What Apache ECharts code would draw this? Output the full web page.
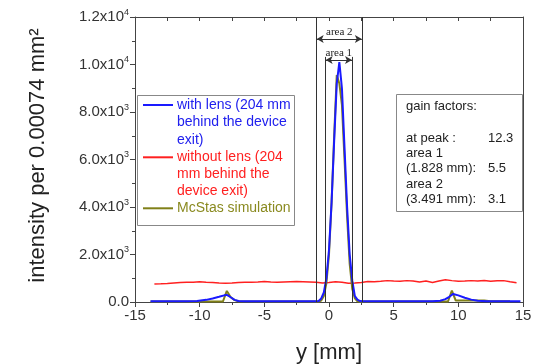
<!DOCTYPE html>
<html><head><meta charset="utf-8">
<script src="https://cdn.jsdelivr.net/npm/echarts@6/dist/echarts.min.js"></script>
<style>html,body{margin:0;padding:0;background:#fff}#c{width:545px;height:364px}</style>
</head><body><div id="c"></div>
<script>
// ---- data ----
const blueX = [-13.8,-12,-11,-10.2,-9.5,-9,-8.5,-8.1,-7.9,-7.6,-7.3,-7,-6.5,-4,-1.2,-1.0,-0.8,-0.6,-0.4,-0.2,0,0.2,0.4,0.6,0.8,1.0,1.2,1.4,1.6,1.8,2.0,2.2,2.4,2.6,5,8,8.6,9,9.3,9.6,10,10.5,11,11.5,12.2,14.8];
const blueY = [30,30,30,40,90,150,220,280,300,200,90,40,30,30,30,30,40,150,400,1000,2200,4200,6800,9200,10100,9000,6500,4000,2000,900,250,100,40,30,30,30,50,120,220,340,280,180,100,50,30,30];
const oliveX = [-13.8,-8.2,-7.9,-7.6,-7.3,-7,-1,-0.8,-0.6,-0.4,-0.2,0,0.2,0.4,0.6,0.8,1.0,1.2,1.4,1.6,1.8,2.0,2.2,2.4,2.6,9.2,9.5,9.8,12,12.5,14];
const oliveY = [20,20,465,200,80,30,20,20,60,250,800,2000,4200,7000,9560,9200,8300,6000,3600,1600,550,150,30,10,20,20,477,60,60,30,30];
const redX = [-13.5,-13,-12.5,-12,-11.5,-11,-10.5,-10,-9.5,-9,-8.5,-8,-7.5,-7,-6.5,-6,-5.5,-5,-4.5,-4,-3.5,-3,-2.5,-2,-1.5,-1,-0.5,0,0.5,1,1.5,2,2.5,3,3.5,4,4.5,5,5.5,6,6.5,7,7.5,8,8.5,9,9.5,10,10.5,11,11.5,12,12.5,13,13.5,14,14.5];
const redY = [760,765,780,800,820,830,830,850,830,820,800,790,800,820,830,830,840,860,840,830,840,850,860,850,840,830,800,820,850,830,790,800,820,860,850,870,900,880,870,900,880,840,880,820,880,940,900,870,880,900,880,910,870,890,900,850,810];
const yTicks = [0,2000,4000,6000,8000,10000,12000];
const area1 = [-0.26, 1.78];
const area2 = [-0.95, 2.54];
const legendLines = [
  ['with lens (204 mm','behind the device','exit)'],
  ['without lens (204','mm behind the','device exit)'],
  ['McStas simulation']
];
const gainLabels = ['gain factors:','','at peak :','area 1','(1.828 mm):','area 2','(3.491 mm):'];
const gainValues = ['','','12.3','','5.5','','3.1'];

const C_BLUE='#1a1aff', C_RED='#ff2020', C_OLIVE='#808018';
const FONT='Liberation Sans, Arial, sans-serif';
const pairs=(xs,ys)=>xs.map((x,i)=>[x,ys[i]]);

function yFmt(v){
  if(v===0) return '{b|0.0}';
  const e=Math.floor(Math.log10(v)+1e-9);
  const m=(v/Math.pow(10,e)).toFixed(1);
  return '{b|'+m+'x10}{s|'+e+'}';
}

const chart=echarts.init(document.getElementById('c'),null,{renderer:'canvas'});
const graphics=[];
// legend box
graphics.push({type:'rect',left:137,top:95,shape:{width:157,height:130},style:{fill:'#fff',stroke:'#888',lineWidth:1},z:100});
const legCols=[C_BLUE,C_RED,C_OLIVE];
const legTextCols=['#2020ee','#ff2020','#8a8a20'];
let row=0; const rowY=[105,122.5,140,157.3,174.5,191.5,208.3];
legendLines.forEach((ls,i)=>{
  graphics.push({type:'line',shape:{x1:143,y1:rowY[row],x2:173,y2:rowY[row]},style:{stroke:legCols[i],lineWidth:2},z:101});
  ls.forEach(t=>{
    graphics.push({type:'text',x:177,y:rowY[row],style:{text:t,fill:legTextCols[i],font:'14px '+FONT,textVerticalAlign:'middle'},z:101});
    row++;
  });
});
// gain box
graphics.push({type:'rect',left:396,top:94,shape:{width:126,height:117},style:{fill:'#fff',stroke:'#888',lineWidth:1},z:100});
const gY=[106.5,122,138,153,168,184,199];
gainLabels.forEach((t,i)=>{
  if(t) graphics.push({type:'text',x:406,y:gY[i],style:{text:t,fill:'#222',font:'13px '+FONT,textVerticalAlign:'middle'},z:101});
  if(gainValues[i]) graphics.push({type:'text',x:488,y:gY[i],style:{text:gainValues[i],fill:'#222',font:'13px '+FONT,textVerticalAlign:'middle'},z:101});
});

const lineCol='#333';
chart.setOption({
  animation:false,
  backgroundColor:'#fff',
  grid:{left:135,right:22,top:17,bottom:62,outerBoundsMode:'none',containLabel:false},
  xAxis:[{
    type:'value',min:-15,max:15,interval:5,position:'bottom',
    name:'y [mm]',nameLocation:'middle',nameGap:40,
    nameTextStyle:{fontSize:22,color:'#222',fontFamily:FONT},
    axisLine:{onZero:false,lineStyle:{color:'#444',width:1}},
    axisTick:{show:true,length:5,lineStyle:{color:'#444'}},
    minorTick:{show:true,splitNumber:2,length:3,lineStyle:{color:'#444'}},
    axisLabel:{fontSize:15,color:'#333',fontFamily:FONT,margin:6},
    splitLine:{show:false}
  },{
    type:'value',min:-15,max:15,interval:2.5,position:'top',
    axisLine:{show:true,onZero:false,lineStyle:{color:'#444'}},
    axisTick:{show:true,inside:true,length:4,lineStyle:{color:'#444'}},
    axisLabel:{show:false},splitLine:{show:false}
  }],
  yAxis:[{
    type:'value',min:0,max:12000,interval:2000,
    name:'intensity per 0.00074 mm²',nameLocation:'middle',nameGap:86,
    nameTextStyle:{fontSize:22,color:'#222',fontFamily:FONT,padding:[0,0,0,8]},
    axisLine:{show:true,onZero:false,lineStyle:{color:'#444'}},
    axisTick:{show:true,length:5,lineStyle:{color:'#444'}},
    minorTick:{show:true,splitNumber:2,length:3,lineStyle:{color:'#444'}},
    axisLabel:{formatter:yFmt,margin:6,rich:{
      b:{fontSize:15,color:'#333',fontFamily:FONT},
      s:{fontSize:9,color:'#333',fontFamily:FONT,padding:[0,0,9,0]}
    }},
    splitLine:{show:false}
  },{
    type:'value',min:0,max:12000,position:'right',
    axisLine:{show:true,onZero:false,lineStyle:{color:'#444'}},
    axisTick:{show:false},axisLabel:{show:false},splitLine:{show:false}
  }],
  series:[
    {type:'line',name:'without lens',data:pairs(redX,redY),showSymbol:false,lineStyle:{color:C_RED,width:1.5},itemStyle:{color:C_RED},z:2},
    {type:'line',name:'McStas simulation',data:pairs(oliveX,oliveY),showSymbol:false,lineStyle:{color:C_OLIVE,width:2},itemStyle:{color:C_OLIVE},z:3},
    {type:'line',name:'with lens',data:pairs(blueX,blueY),showSymbol:false,lineStyle:{color:C_BLUE,width:2},itemStyle:{color:C_BLUE},z:4,
     markLine:{silent:true,animation:false,symbol:['arrow','arrow'],symbolSize:[6,7],
       lineStyle:{color:lineCol,width:1,type:'solid'},
       label:{show:false},
       data:[
        [{coord:[area2[0],12000],symbol:'none'},{coord:[area2[0],0],symbol:'none'}],
        [{coord:[area2[1],12000],symbol:'none'},{coord:[area2[1],0],symbol:'none'}],
        [{coord:[area1[0],10320],symbol:'none'},{coord:[area1[0],0],symbol:'none'}],
        [{coord:[area1[1],10320],symbol:'none'},{coord:[area1[1],0],symbol:'none'}],
        [{coord:[area2[0],11070],label:{show:true,formatter:'area 2',position:'insideMiddleTop',distance:1,fontFamily:'Liberation Serif, serif',fontSize:11,color:'#222'}},{coord:[area2[1],11070]}],
        [{coord:[area1[0],10190],label:{show:true,formatter:'area 1',position:'insideMiddleTop',distance:1,fontFamily:'Liberation Serif, serif',fontSize:11,color:'#222'}},{coord:[area1[1],10190]}]
       ]}}
  ],
  graphic:graphics
});
</script></body></html>
